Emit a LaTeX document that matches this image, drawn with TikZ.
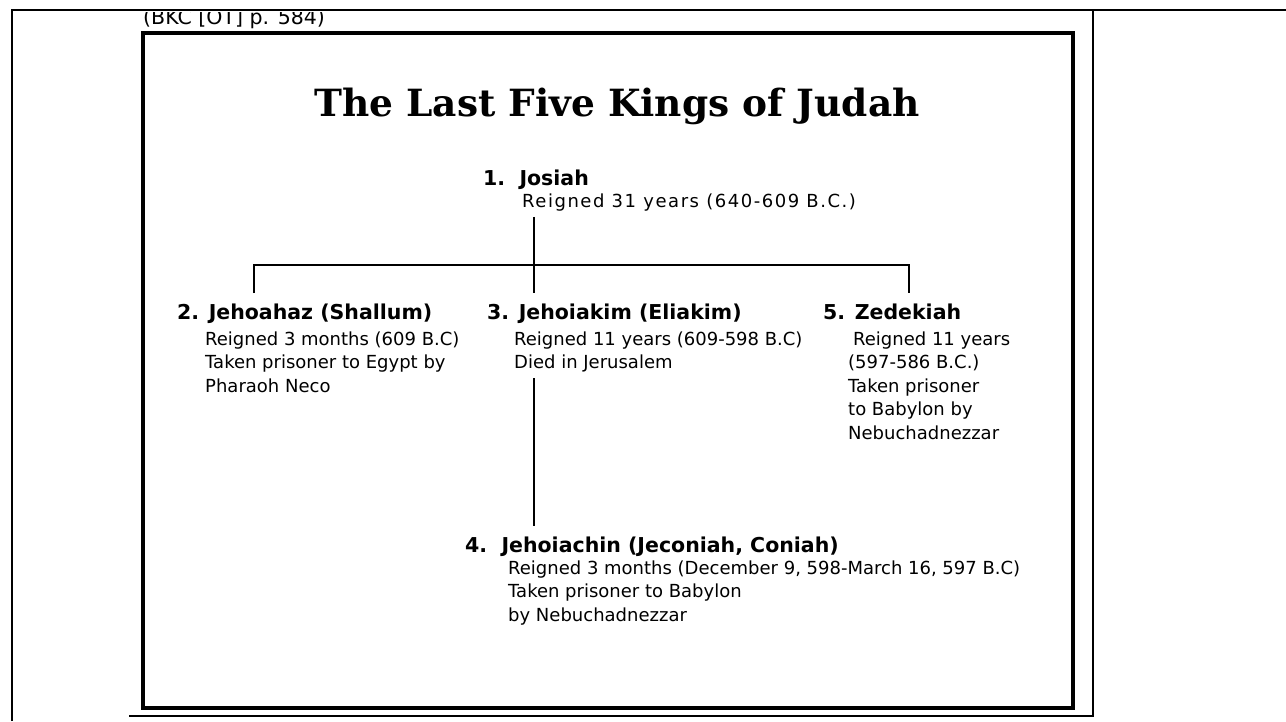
\documentclass[tikz,border=0pt]{standalone}
\usepackage{fontspec}
\setmainfont{DejaVu Sans}
\newfontfamily\titlefont{DejaVu Serif}
\newfontfamily\widefont{DejaVu Sans}[LetterSpace=8.5]
\usetikzlibrary{positioning}

\tikzset{
  kinghead/.style={anchor=base west, inner xsep=0pt, inner ysep=10pt, font=\fontsize{20.5}{23}\selectfont\bfseries},
  kingtext/.style={anchor=base west, inner xsep=0pt, inner ysep=6pt, align=left, font=\fontsize{18}{23.5}\selectfont},
  link/.style={line width=2.8pt},
  frame/.style={line width=1.8pt},
  thinframe/.style={line width=1.3pt}
}

\begin{document}
\begin{tikzpicture}[x=1pt, y=-1pt]
  \useasboundingbox (0,0) rectangle (1286,721);

  % page frame
  \draw [frame] (12,721) -- (12,10) -- (1286,10);
  \draw [thinframe] (1093,10) -- (1093,716) -- (129,716);
  \begin{scope}
    \clip (0,12.5) rectangle (1286,40);
    \node (source) [anchor=base west, inner sep=0pt, font=\fontsize{20.5}{23}\selectfont] at (143,24) {(BKC [OT] p. 584)};
  \end{scope}

  % chart box
  \draw [line width=3.6pt] (143,33) rectangle (1073,708);
  \node (title) [anchor=base, inner sep=0pt, font=\fontsize{37.5}{40}\titlefont\bfseries] at (617,116) {The Last Five Kings of Judah};

  % kings (text nodes sit on the baseline of their last line)
  \node (josiah) [kinghead] at (483,185) {1.\ \ Josiah};
  \node (josiahtxt) [kingtext, font=\fontsize{18}{23.5}\widefont] at (522,207) {Reigned 31 years (640-609 B.C.)};

  \node (jehoahaz) [kinghead] at (177,319) {2. Jehoahaz (Shallum)};
  \node (jehoahaztxt) [kingtext] at (205,392) {Reigned 3 months (609 B.C)\\Taken prisoner to Egypt by\\Pharaoh Neco};

  \node (jehoiakim) [kinghead] at (487,319) {3. Jehoiakim (Eliakim)};
  \node (jehoiakimtxt) [kingtext] at (514,368.5) {Reigned 11 years (609-598 B.C)\\Died in Jerusalem};

  \node (zedekiah) [kinghead] at (823,319) {5. Zedekiah};
  \node (zedekiahtxt) [kingtext] at (848,439) {\hspace{5pt}Reigned 11 years\\(597-586 B.C.)\\Taken prisoner\\to Babylon by\\Nebuchadnezzar};

  \node (jehoiachin) [kinghead] at (465,552) {4.\ \ Jehoiachin (Jeconiah, Coniah)};
  \node (jehoiachintxt) [kingtext] at (508,621) {Reigned 3 months (December 9, 598-March 16, 597 B.C)\\Taken prisoner to Babylon\\by Nebuchadnezzar};

  % lines
  \coordinate (split) at (534,265);
  \coordinate (lbranch) at (254,265);
  \coordinate (rbranch) at (909,265);
  \draw [link] (split |- josiahtxt.south) -- (split |- jehoiakim.north);
  \draw [link] (lbranch |- jehoahaz.north) -- (lbranch) -- (rbranch) -- (rbranch |- zedekiah.north);
  \draw [link] (split |- jehoiakimtxt.south) -- (split |- jehoiachin.north);
\end{tikzpicture}
\end{document}
